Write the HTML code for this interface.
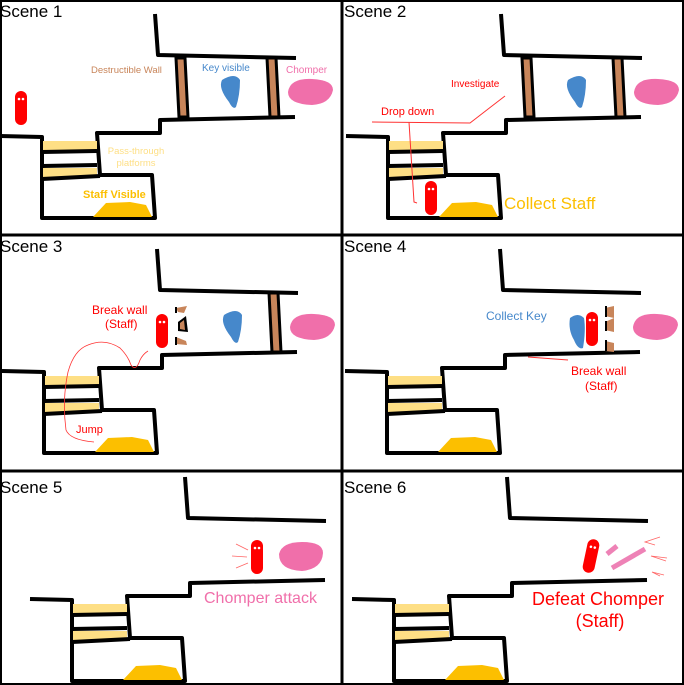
<!DOCTYPE html>
<html><head><meta charset="utf-8"><style>
html,body{margin:0;padding:0;background:#fff}
svg{display:block}
text{font-family:"Liberation Sans",sans-serif}
</style></head><body>
<svg width="684" height="685" viewBox="0 0 684 685" xmlns="http://www.w3.org/2000/svg">
<defs>
<clipPath id="c5"><rect x="0" y="472" width="342" height="213"/></clipPath>
<clipPath id="c6"><rect x="343" y="472" width="341" height="213"/></clipPath>
<g id="base">
  <polyline points="155,14 158,55 296,58" fill="none" stroke="#000" stroke-width="4" stroke-linejoin="round"/>
  <polyline points="0,136 42,137 42,218 155,218 152,175 100,175 97,133 160,133 160,120 295,117" fill="none" stroke="#000" stroke-width="4" stroke-linejoin="round"/>
  <rect x="43" y="141" width="54" height="10" fill="#fedf85"/>
  <rect x="43" y="168" width="54" height="9" fill="#fedf85"/>
  <line x1="42" y1="152" x2="97" y2="151" stroke="#000" stroke-width="4"/>
  <line x1="42" y1="166" x2="97" y2="165" stroke="#000" stroke-width="4"/>
  <line x1="42" y1="179" x2="100" y2="176" stroke="#000" stroke-width="4"/>
  <polygon points="93,217 152,217 146,205 130,202 106,203" fill="#fcbf00"/>
</g>
<g id="wallL"><polygon points="176,58 185,58 188,117 179,117" fill="#c8855a" stroke="#000" stroke-width="3"/></g>
<g id="wallR"><polygon points="267,58 276,58 279,117 270,117" fill="#c8855a" stroke="#000" stroke-width="3"/></g>
<g id="key"><path d="M222,80 Q235,72 240,80 Q240,95 236,107 Q233,110 229,102 Q218,88 222,80Z" fill="#4688cb"/></g>
<g id="chomp"><path d="M288,92 Q290,78 312,79 Q333,80 333,90 Q330,104 312,105 Q288,104 288,92Z" fill="#f06faa"/></g>
<g id="pill"><rect x="-6" y="-17" width="12" height="34" rx="6" fill="#f00"/><circle cx="-2" cy="-9" r="1.3" fill="#fff"/><circle cx="2" cy="-9" r="1.3" fill="#fff"/></g>
</defs>
<rect x="1" y="1" width="682" height="683" fill="none" stroke="#000" stroke-width="2"/>
<line x1="342" y1="0" x2="342" y2="685" stroke="#000" stroke-width="3"/>
<line x1="0" y1="235" x2="684" y2="235" stroke="#000" stroke-width="3"/>
<line x1="0" y1="471" x2="684" y2="471" stroke="#000" stroke-width="3"/>

<!-- Scene 1 -->
<text x="0" y="17" font-size="17">Scene 1</text>
<use href="#base"/><use href="#wallL"/><use href="#wallR"/><use href="#key"/><use href="#chomp"/>
<use href="#pill" x="21" y="108"/>
<text x="91" y="73" font-size="9.5" fill="#c8855a">Destructible Wall</text>
<text x="202" y="71" font-size="10" fill="#4688cb">Key visible</text>
<text x="286" y="73" font-size="10" fill="#f06faa">Chomper</text>
<text x="136" y="154" font-size="9.5" fill="#fedf85" text-anchor="middle">Pass-through</text>
<text x="136" y="166" font-size="9.5" fill="#fedf85" text-anchor="middle">platforms</text>
<text x="83" y="198" font-size="11" font-weight="bold" fill="#fcbf00">Staff Visible</text>

<!-- Scene 2 -->
<text x="344" y="17" font-size="17">Scene 2</text>
<g transform="translate(346,0)"><use href="#base"/><use href="#wallL"/><use href="#wallR"/><use href="#key"/><use href="#chomp"/></g>
<use href="#pill" x="431" y="198"/>
<polyline points="372,122 470,123 492,106 505,96" fill="none" stroke="#f33" stroke-width="1"/>
<polyline points="409,122 412,170 414,202 417,203" fill="none" stroke="#f33" stroke-width="1"/>
<text x="451" y="87" font-size="10" fill="#f00">Investigate</text>
<text x="381" y="115" font-size="11" fill="#f00">Drop down</text>
<text x="504" y="209" font-size="17" fill="#fcbf00">Collect Staff</text>

<!-- Scene 3 -->
<text x="0" y="252" font-size="17">Scene 3</text>
<g transform="translate(2,235)"><use href="#base"/><use href="#wallR"/><use href="#key"/><use href="#chomp"/></g>
<polygon points="176,308 187,306 184,313 178,312" fill="#c8855a"/><line x1="176" y1="307" x2="176" y2="313" stroke="#000" stroke-width="2"/>
<polygon points="178,322 186,316 188,332 178,331" fill="#000"/><polygon points="180,323 184,320 185,330 180,329" fill="#c8855a"/>
<polygon points="176,337 186,341 187,345 176,344" fill="#c8855a"/><line x1="176" y1="337" x2="176" y2="345" stroke="#000" stroke-width="2"/>
<use href="#pill" x="162" y="331"/>
<path d="M94,442 Q70,440 66,430 Q62,400 68,372 Q74,350 88,345 Q105,338 120,348 Q128,356 131,365 Q136,372 140,360 Q143,354 148,351" fill="none" stroke="#f33" stroke-width="0.8"/>
<text x="92" y="314" font-size="12" fill="#f00">Break wall</text>
<text x="105" y="328" font-size="12" fill="#f00">(Staff)</text>
<text x="76" y="433" font-size="11" fill="#f00">Jump</text>

<!-- Scene 4 -->
<text x="344" y="252" font-size="17">Scene 4</text>
<g transform="translate(345,235)"><use href="#base"/><use href="#chomp"/></g>
<path d="M570,318 Q578,312 584,318 Q586,330 583,348 Q578,350 574,340 Q568,330 570,318Z" fill="#4688cb"/>
<use href="#pill" x="592" y="329"/>
<polygon points="605,308 614,306 614,318 605,316" fill="#c8855a"/><line x1="606" y1="306" x2="606" y2="317" stroke="#000" stroke-width="2"/>
<polygon points="605,322 614,318 614,332 605,330" fill="#c8855a"/><line x1="606" y1="321" x2="606" y2="331" stroke="#000" stroke-width="2"/>
<polygon points="605,341 614,343 614,352 605,351" fill="#c8855a"/><line x1="606" y1="340" x2="606" y2="351" stroke="#000" stroke-width="2"/>
<line x1="528" y1="357" x2="568" y2="360" stroke="#f33" stroke-width="1"/>
<text x="486" y="320" font-size="12" fill="#4688cb">Collect Key</text>
<text x="571" y="375" font-size="12" fill="#f00">Break wall</text>
<text x="585" y="390" font-size="12" fill="#f00">(Staff)</text>

<!-- Scene 5 -->
<text x="0" y="493" font-size="17">Scene 5</text>
<g clip-path="url(#c5)"><g transform="translate(30,463)"><use href="#base"/></g></g>
<path d="M279,554 Q282,542 302,542 Q323,542 323,553 Q322,569 302,571 Q279,570 279,554Z" fill="#f06faa"/>
<use href="#pill" x="257" y="557"/>
<g stroke="#f66" stroke-width="0.8" fill="none"><line x1="236" y1="544" x2="248" y2="550"/><line x1="232" y1="556" x2="247" y2="557"/><line x1="236" y1="568" x2="248" y2="563"/></g>
<text x="204" y="603" font-size="16" fill="#f06faa">Chomper attack</text>

<!-- Scene 6 -->
<text x="344" y="493" font-size="17">Scene 6</text>
<g clip-path="url(#c6)"><g transform="translate(352,463)"><use href="#base"/></g></g>
<g transform="translate(591,556) rotate(12)"><use href="#pill"/></g>
<g stroke="#ee82b6" stroke-width="5"><line x1="607" y1="554" x2="617" y2="546"/><line x1="612" y1="568" x2="645" y2="549"/></g>
<g stroke="#f66" stroke-width="0.8" fill="none"><polyline points="660,537 645,542 655,545"/><polyline points="667,558 651,556 666,561"/><polyline points="660,576 652,572 664,575"/></g>
<text x="598" y="605" font-size="18" fill="#f00" text-anchor="middle">Defeat Chomper</text>
<text x="600" y="627" font-size="18" fill="#f00" text-anchor="middle">(Staff)</text>
</svg>
</body></html>
